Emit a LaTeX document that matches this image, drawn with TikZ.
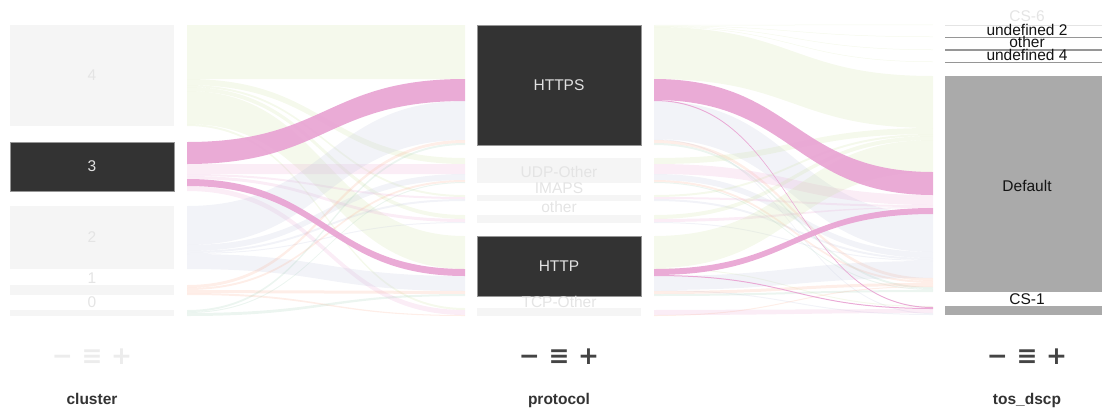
\documentclass[tikz,border=0pt]{standalone}
\usepackage{fontspec}
\setmainfont{Liberation Sans}
\newfontfamily\iconfont{DejaVu Sans}

\definecolor{fgreen}{RGB}{205,225,160}
\definecolor{fpink}{RGB}{233,166,212}
\definecolor{flav}{RGB}{190,195,220}
\definecolor{forange}{RGB}{250,170,140}
\definecolor{fteal}{RGB}{160,205,180}
\definecolor{barlight}{RGB}{245,245,245}
\definecolor{bardark}{RGB}{51,51,51}
\definecolor{barrim}{RGB}{150,150,150}
\definecolor{bargray}{RGB}{170,170,170}
\definecolor{tosline}{RGB}{150,150,150}
\definecolor{labelfaint}{RGB}{228,228,228}
\definecolor{labellight}{RGB}{225,225,225}
\definecolor{labeldark}{RGB}{20,20,20}
\definecolor{dimtext}{RGB}{51,51,51}
\definecolor{ctrlon}{RGB}{68,68,68}
\definecolor{ctrloff}{RGB}{236,236,236}

\newcommand{\lblsize}{\fontsize{15.5}{18}\selectfont}
% ribbon between the cluster and protocol columns: style, left top/bottom, right top/bottom
\newcommand{\bandA}[5]{\path[#1] (187,#2) .. controls (326,#2) and (326,#4) .. (465,#4) -- (465,#5) .. controls (326,#5) and (326,#3) .. (187,#3) -- cycle;}
% ribbon between the protocol and tos_dscp columns
\newcommand{\bandB}[5]{\path[#1] (654,#2) .. controls (793.5,#2) and (793.5,#4) .. (933,#4) -- (933,#5) .. controls (793.5,#5) and (793.5,#3) .. (654,#3) -- cycle;}

\begin{document}
\begin{tikzpicture}[x=1pt,y=-1pt,
  fg/.style={fill=fgreen,fill opacity=0.2},
  fp/.style={fill=fpink,fill opacity=0.95},
  fpl/.style={fill=fpink,fill opacity=0.2},
  fl/.style={fill=flav,fill opacity=0.2},
  fo/.style={fill=forange,fill opacity=0.2},
  ft/.style={fill=fteal,fill opacity=0.2},
  bar/.style={inner sep=0pt,outer sep=0pt,minimum width=164pt,font=\lblsize},
  catbar/.style={bar,fill=barlight,text=labelfaint},
  selbar/.style={bar,fill=bardark,draw=barrim,line width=0.8pt,text=labellight},
  tosbar/.style={bar,fill=bargray,text=labeldark},
  catlabel/.style={font=\lblsize,text=labelfaint,anchor=base,inner sep=0pt},
  toslabel/.style={font=\lblsize,text=labeldark,anchor=base,inner sep=0pt},
  dimlabel/.style={font=\bfseries\fontsize{15.5}{18}\selectfont,text=dimtext,anchor=base,inner sep=0pt},
  ctrl/.style={font=\iconfont\bfseries\fontsize{25}{25}\selectfont,anchor=base,inner sep=0pt}]
\useasboundingbox (0,0) rectangle (1102,410);

% ---- flows: cluster -> protocol ----
% cluster 4
\bandA{fg}{25}{79}{25}{79}
\bandA{fg}{79}{85}{158}{164}
\bandA{fg}{85}{87}{195}{197}
\bandA{fg}{87}{91}{215}{219}
\bandA{fg}{91}{124}{236}{269}
\bandA{fg}{124}{126}{308}{310}
% cluster 3 (faded part)
\bandA{fpl}{164}{174}{164}{174}
\bandA{fpl}{174}{176}{197}{199}
\bandA{fpl}{176}{179}{219}{222}
\bandA{fpl}{186}{191}{310}{315}
% cluster 2
\bandA{fl}{206}{245}{101}{140}
\bandA{fl}{245}{251}{174}{180}
\bandA{fl}{251}{253}{199}{201}
\bandA{fl}{253}{254}{222}{223}
\bandA{fl}{254}{269}{276}{291}
% cluster 1
\bandA{fo}{285}{288}{140}{143}
\bandA{fo}{288}{290}{180}{182}
\bandA{fo}{290}{293}{291}{294}
\bandA{fo}{293}{295}{315}{316}
% cluster 0
\bandA{ft}{310}{312}{143}{145}
\bandA{ft}{312}{313}{182}{183}
\bandA{ft}{313}{316}{294}{296}
% cluster 3 (selected part)
\bandA{fp}{142}{164}{79}{101}
\bandA{fp}{179}{186}{269}{276}

% ---- flows: protocol -> tos_dscp ----
% HTTPS
\bandB{fg}{25}{25.5}{24.5}{25}
\bandB{fg}{25.5}{26}{36.5}{37}
\bandB{fg}{26}{26.5}{49.5}{50}
\bandB{fg}{26.5}{27}{61.5}{62}
\bandB{fg}{27}{79}{76}{128}
\bandB{fl}{101}{139}{214}{252}
\bandB{fl}{139}{140}{313}{314}
\bandB{fo}{140}{143}{278}{281}
\bandB{ft}{143}{145}{287}{289}
% UDP-Other
\bandB{fg}{158}{164}{128}{134}
\bandB{fpl}{164}{174}{195}{205}
\bandB{fl}{174}{180}{252}{258}
\bandB{fo}{180}{182}{281}{283}
\bandB{ft}{182}{183}{289}{290}
% IMAPS
\bandB{fg}{195}{197}{134}{136}
\bandB{fpl}{197}{199}{205}{207}
\bandB{fl}{199}{201}{258}{260}
% other
\bandB{fg}{215}{219}{136}{140}
\bandB{fpl}{219}{222}{207}{208}
\bandB{fl}{222}{223}{260}{261}
% HTTP
\bandB{fg}{236}{268}{140}{172}
\bandB{fg}{268}{269}{306}{307}
\bandB{fl}{276}{290}{261}{278}
\bandB{fl}{290}{291}{314}{315}
\bandB{fo}{291}{294}{283}{286}
\bandB{ft}{294}{296}{290}{292}
% TCP-Other
\bandB{fpl}{310}{315}{309}{313}
\bandB{fo}{315}{316}{286}{287}
% selected cluster 3 paths
\bandB{fp}{79}{100}{172}{195}
\bandB{fp}{100}{101}{307}{308}
\bandB{fp}{269}{275}{208}{214}
\bandB{fp}{275}{276}{308}{309}

% ---- cluster column ----
\node[catbar,minimum height=101pt] (c4) at (92,75.5) {4};
\node[selbar,minimum height=49pt] (c3) at (92,166.5) {3};
\node[catbar,minimum height=63pt] (c2) at (92,237.5) {2};
\node[catbar,minimum height=10pt] (c1) at (92,290) {};
\node[catbar,minimum height=6pt] (c0) at (92,313) {};
\node[catlabel] (c1lbl) at (92,283) {1};
\node[catlabel] (c0lbl) at (92,307) {0};

% ---- protocol column ----
\node[selbar,minimum height=120pt] (https) at (559,85) {HTTPS};
\node[catbar,minimum height=25pt] (udp) at (559,170.5) {};
\node[catbar,minimum height=6pt] (imaps) at (559,198) {};
\node[catbar,minimum height=8pt] (pother) at (559,219) {};
\node[selbar,minimum height=60pt] (http) at (559,266) {HTTP};
\node[catbar,minimum height=8pt] (tcp) at (559,312) {};
\node[catlabel] (udplbl) at (559,177) {UDP-Other};
\node[catlabel] (imapslbl) at (559,193) {IMAPS};
\node[catlabel] (potherlbl) at (559,212) {other};
\node[catlabel] (tcplbl) at (559,307) {TCP-Other};

% ---- tos_dscp column ----
\draw[labelfaint,line width=1pt] (945,25) -- (1109,25);
\draw[tosline,line width=1.2pt] (945,37.3) -- (1109,37.3);
\draw[tosline,line width=1.2pt] (945,50) -- (1109,50);
\draw[tosline,line width=1.2pt] (945,62.3) -- (1109,62.3);
\node[tosbar,minimum height=216pt] (default) at (1027,184) {};
\node[toslabel] (defaultlbl) at (1027,191.5) {Default};
\node[tosbar,minimum height=9pt] (cs1) at (1027,310.5) {};
\node[catlabel] (cs6lbl) at (1027,21) {CS-6};
\node[toslabel] (und2lbl) at (1027,35) {undefined 2};
\node[toslabel] (tothlbl) at (1027,47) {other};
\node[toslabel] (und4lbl) at (1027,60) {undefined 4};
\node[toslabel] (cs1lbl) at (1027,304) {CS-1};

% ---- dimension controls and names ----
\node[ctrl,text=ctrloff] (ctrlc) at (92,364) {− ≡ +};
\node[ctrl,text=ctrlon] (ctrlp) at (559,364) {− ≡ +};
\node[ctrl,text=ctrlon] (ctrlt) at (1027,364) {− ≡ +};
\node[dimlabel] (dimc) at (92,404) {cluster};
\node[dimlabel] (dimp) at (559,404) {protocol};
\node[dimlabel] (dimt) at (1027,404) {tos\_dscp};
\end{tikzpicture}
\end{document}
